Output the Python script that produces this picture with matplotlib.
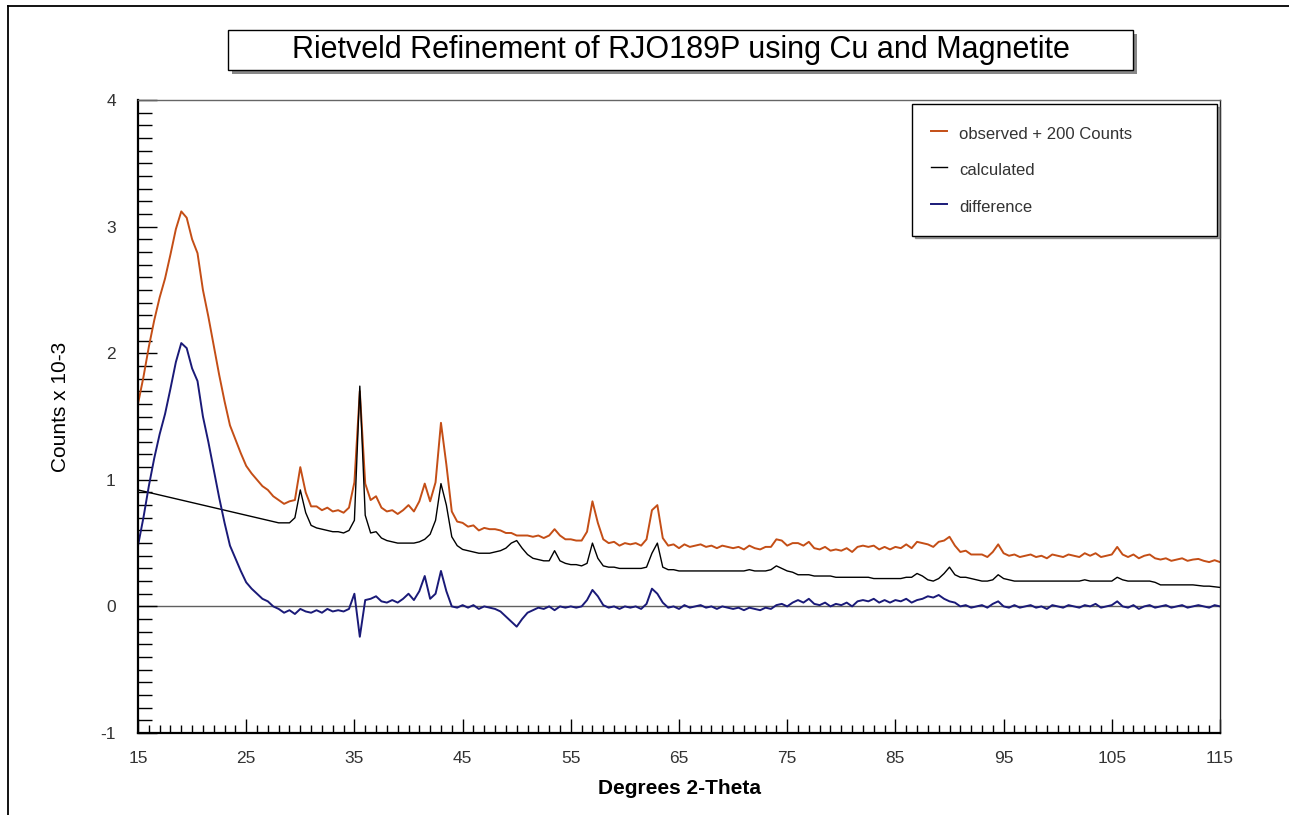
import numpy as np
import matplotlib
matplotlib.use("Agg")
import matplotlib.pyplot as plt
from matplotlib.patches import Rectangle
from matplotlib.lines import Line2D
from matplotlib.ticker import MultipleLocator

plt.rcParams['font.family'] = ['Liberation Sans', 'DejaVu Sans']
plt.rcParams['axes.unicode_minus'] = False

# ---------------- data (counts x 10^-3) ----------------
two_theta_start = 15.0
two_theta_step = 0.5

calculated = [
    0.92, 0.91, 0.90, 0.89, 0.88, 0.87, 0.86, 0.85, 0.84, 0.83,
    0.82, 0.81, 0.80, 0.79, 0.78, 0.77, 0.76, 0.75, 0.74, 0.73,
    0.72, 0.71, 0.70, 0.69, 0.68, 0.67, 0.66, 0.66, 0.66, 0.70,
    0.92, 0.74, 0.64, 0.62, 0.61, 0.60, 0.59, 0.59, 0.58, 0.60,
    0.68, 1.74, 0.72, 0.58, 0.59, 0.54, 0.52, 0.51, 0.50, 0.50,
    0.50, 0.50, 0.51, 0.53, 0.57, 0.68, 0.97, 0.80, 0.55, 0.48,
    0.45, 0.44, 0.43, 0.42, 0.42, 0.42, 0.43, 0.44, 0.46, 0.50,
    0.52, 0.46, 0.41, 0.38, 0.37, 0.36, 0.36, 0.44, 0.36, 0.34,
    0.33, 0.33, 0.32, 0.34, 0.50, 0.38, 0.32, 0.31, 0.31, 0.30,
    0.30, 0.30, 0.30, 0.30, 0.31, 0.42, 0.50, 0.31, 0.29, 0.29,
    0.28, 0.28, 0.28, 0.28, 0.28, 0.28, 0.28, 0.28, 0.28, 0.28,
    0.28, 0.28, 0.28, 0.29, 0.28, 0.28, 0.28, 0.29, 0.32, 0.30,
    0.28, 0.27, 0.25, 0.25, 0.25, 0.24, 0.24, 0.24, 0.24, 0.23,
    0.23, 0.23, 0.23, 0.23, 0.23, 0.23, 0.22, 0.22, 0.22, 0.22,
    0.22, 0.22, 0.23, 0.23, 0.26, 0.24, 0.21, 0.20, 0.22, 0.26,
    0.31, 0.25, 0.23, 0.23, 0.22, 0.21, 0.20, 0.20, 0.21, 0.25,
    0.22, 0.21, 0.20, 0.20, 0.20, 0.20, 0.20, 0.20, 0.20, 0.20,
    0.20, 0.20, 0.20, 0.20, 0.20, 0.21, 0.20, 0.20, 0.20, 0.20,
    0.20, 0.23, 0.21, 0.20, 0.20, 0.20, 0.20, 0.20, 0.19, 0.17,
    0.17, 0.17, 0.17, 0.17, 0.17, 0.17, 0.165, 0.16, 0.16, 0.155,
    0.15,
]

observed = [
    1.40, 1.61, 1.85, 2.06, 2.24, 2.39, 2.58, 2.78, 2.92, 2.87,
    2.70, 2.59, 2.30, 2.09, 1.86, 1.63, 1.42, 1.23, 1.12, 1.01,
    0.91, 0.85, 0.80, 0.75, 0.72, 0.67, 0.64, 0.61, 0.63, 0.64,
    0.90, 0.70, 0.59, 0.59, 0.56, 0.58, 0.55, 0.56, 0.54, 0.58,
    0.78, 1.50, 0.77, 0.64, 0.67, 0.58, 0.55, 0.56, 0.53, 0.56,
    0.60, 0.55, 0.63, 0.77, 0.63, 0.78, 1.25, 0.92, 0.55, 0.47,
    0.46, 0.43, 0.44, 0.40, 0.42, 0.41, 0.41, 0.40, 0.38, 0.38,
    0.36, 0.36, 0.36, 0.35, 0.36, 0.34, 0.36, 0.41, 0.36, 0.33,
    0.33, 0.32, 0.32, 0.39, 0.63, 0.46, 0.33, 0.30, 0.31, 0.28,
    0.30, 0.29, 0.30, 0.28, 0.33, 0.56, 0.60, 0.34, 0.28, 0.29,
    0.26, 0.29, 0.27, 0.28, 0.29, 0.27, 0.28, 0.26, 0.28, 0.27,
    0.26, 0.27, 0.25, 0.28, 0.26, 0.25, 0.27, 0.27, 0.33, 0.32,
    0.28, 0.30, 0.30, 0.28, 0.31, 0.26, 0.25, 0.27, 0.24, 0.25,
    0.24, 0.26, 0.23, 0.27, 0.28, 0.27, 0.28, 0.25, 0.27, 0.25,
    0.27, 0.26, 0.29, 0.26, 0.31, 0.30, 0.29, 0.27, 0.31, 0.32,
    0.35, 0.28, 0.23, 0.24, 0.21, 0.21, 0.21, 0.19, 0.23, 0.29,
    0.22, 0.20, 0.21, 0.19, 0.20, 0.21, 0.19, 0.20, 0.18, 0.21,
    0.20, 0.19, 0.21, 0.20, 0.19, 0.22, 0.20, 0.22, 0.19, 0.20,
    0.21, 0.27, 0.21, 0.19, 0.21, 0.18, 0.20, 0.21, 0.18, 0.17,
    0.18, 0.16, 0.17, 0.18, 0.16, 0.17, 0.175, 0.16, 0.15, 0.165,
    0.15,
]

observed_offset = 0.2   # "+ 200 Counts"

x_ticks = [15, 25, 35, 45, 55, 65, 75, 85, 95, 105, 115]
y_ticks = [-1, 0, 1, 2, 3, 4]

title_text = "Rietveld Refinement of RJO189P using Cu and Magnetite"
labels = ["observed + 200 Counts", "calculated", "difference"]

# ---------------- derived series ----------------
calc = np.array(calculated)
obs = np.array(observed)
two_theta = two_theta_start + two_theta_step * np.arange(len(calc))
obs_shifted = obs + observed_offset
difference = obs - calc

# ---------------- figure ----------------
W, H = 1289, 815
fig = plt.figure(figsize=(W / 100, H / 100), dpi=100)
fig.patch.set_facecolor("white")

ax = fig.add_axes([138 / W, 1 - 733 / H, (1220 - 138) / W, (733 - 100) / H])

orange = "#C44E16"
navy = "#1A1A78"
ax.plot(two_theta, obs_shifted, color=orange, lw=1.4, label=labels[0])
ax.plot(two_theta, calc, color="black", lw=1.0, label=labels[1])
ax.plot(two_theta, difference, color=navy, lw=1.4, label=labels[2])
ax.axhline(0, color="#606060", lw=1.0, zorder=1)

ax.set_xlim(15, 115)
ax.set_ylim(-1, 4)
ax.set_xticks(x_ticks)
ax.set_yticks(y_ticks)
ax.xaxis.set_minor_locator(MultipleLocator(1))
ax.yaxis.set_minor_locator(MultipleLocator(0.1))
ax.tick_params(axis="both", which="both", direction="in", top=False, right=False,
               colors="black", labelcolor="#333333", labelsize=12.5)
ax.tick_params(axis="y", which="major", length=14, width=1.0, pad=16)
ax.tick_params(axis="y", which="minor", length=10, width=1.0)
ax.tick_params(axis="x", which="major", length=10, width=1.0, pad=13)
ax.tick_params(axis="x", which="minor", length=6, width=1.0)

for side in ["left", "bottom"]:
    ax.spines[side].set_linewidth(1.6)
    ax.spines[side].set_color("black")
ax.spines["top"].set_color("#666666")
ax.spines["top"].set_linewidth(1.0)
ax.spines["right"].set_color("#222222")
ax.spines["right"].set_linewidth(1.0)

ax.set_xlabel("Degrees 2-Theta", fontsize=15, fontweight="bold", labelpad=9)
ax.set_ylabel("Counts x 10-3", fontsize=15)
ax.yaxis.set_label_coords((70 - 138) / 1082, (733 - 407) / 633)

leg = ax.legend(loc="upper left", bbox_to_anchor=(912 / W, 1 - 104 / H, (1217 - 912) / W, 0.0),
                bbox_transform=fig.transFigure, mode="expand",
                frameon=True, fancybox=False, shadow=True, edgecolor="black",
                fontsize=12, handlelength=1.0, handleheight=1.6, handletextpad=0.7,
                borderpad=1.12, labelspacing=0.9, borderaxespad=0)
leg.get_frame().set_linewidth(1.0)
for t in leg.get_texts():
    t.set_color("#333333")

# title box with shadow
bx0, bx1 = 228 / W, 1133 / W
by0, by1 = 1 - 70 / H, 1 - 30 / H
fig.add_artist(Rectangle((bx0 + 4 / W, by0 - 4 / H), bx1 - bx0, by1 - by0,
                         transform=fig.transFigure, facecolor="#888888", edgecolor="none"))
fig.add_artist(Rectangle((bx0, by0), bx1 - bx0, by1 - by0,
                         transform=fig.transFigure, facecolor="white", edgecolor="black", lw=1.0))
fig.text((bx0 + bx1) / 2, (by0 + by1) / 2, title_text, ha="center", va="center",
         fontsize=22, color="black")

# outer frame lines (left and top)
fig.add_artist(Line2D([8 / W, 8 / W], [0, 1 - 6 / H], transform=fig.transFigure, color="black", lw=1.3))
fig.add_artist(Line2D([8 / W, 1], [1 - 6 / H, 1 - 6 / H], transform=fig.transFigure, color="black", lw=1.3))

fig.savefig("out.png", dpi=100)
